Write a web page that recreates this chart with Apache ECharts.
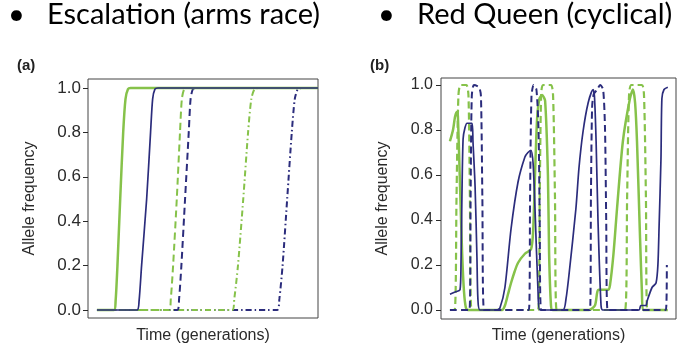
<!DOCTYPE html>
<html>
<head>
<meta charset="utf-8">
<script src="https://cdn.jsdelivr.net/npm/echarts@6/dist/echarts.min.js"></script>
<style>
html,body{margin:0;padding:0;background:#fff;}
#c{width:689px;height:357px;}
</style>
</head>
<body>
<div id="c"></div>
<script>
// ---------- data ----------
var headingA = 'Escalation (arms race)';
var headingB = 'Red Queen (cyclical)';
var panelLabels = ['(a)', '(b)'];
var yTicks = [0, 0.2, 0.4, 0.6, 0.8, 1.0];
var xTitle = 'Time (generations)';
var yTitle = 'Allele frequency';

// Panel (a): escalation, time scaled 0..100
var aGreenSolid = [[3.9,0],[11.3,0],[12.0,0.04],[12.8,0.2],[14.0,0.5],[15.3,0.8],[16.3,0.95],[17.4,0.995],[18.5,1],[100,1]];
var aBlueSolid  = [[3.9,0],[21.3,0],[22.2,0.04],[23.3,0.2],[25.5,0.5],[27.2,0.8],[28.1,0.95],[29.1,0.995],[30.4,1],[100,1]];
var aGreenDash  = [[3.9,0],[35.2,0],[36.0,0.05],[37.0,0.2],[38.6,0.5],[40.0,0.8],[40.8,0.95],[41.8,0.995],[43.0,1],[100,1]];
var aBlueDash   = [[3.9,0],[38.8,0],[39.6,0.05],[40.6,0.2],[42.2,0.5],[43.8,0.8],[44.6,0.95],[45.6,0.995],[47.0,1],[100,1]];
var aGreenDot   = [[3.9,0],[62.7,0],[63.6,0.05],[65.2,0.2],[67.5,0.5],[69.6,0.8],[71.0,0.95],[72.4,0.995],[74.0,1],[100,1]];
var aBlueDot    = [[3.9,0],[82.2,0],[83.2,0.05],[84.6,0.2],[86.6,0.5],[88.6,0.8],[89.9,0.95],[91.2,0.995],[92.8,1],[100,1]];

// Panel (b): Red Queen cycles, time scaled 0..100
var bGreenSolid = [[3.8,0.75],[5.1,0.80],[6.0,0.86],[6.8,0.88],[7.2,0.86],[8.1,0.55],[9.0,0.25],[9.8,0.08],[10.6,0.01],[11.5,0],
  [26.0,0],[27.2,0.02],[28.5,0.07],[29.8,0.12],[31.3,0.17],[32.8,0.21],[35.7,0.25],[38.3,0.27],[39.2,0.35],[40.0,0.6],[40.9,0.85],[41.9,0.94],[43.0,0.955],[44.3,0.93],[45.5,0.6],[46.0,0.25],[46.8,0.02],[47.5,0],
  [63.0,0],[65.5,0.02],[66.5,0.08],[67.2,0.09],[71.1,0.09],[71.9,0.11],[73.4,0.25],[74.9,0.45],[77.4,0.75],[80.4,0.94],[81.7,0.98],[82.6,0.92],[83.4,0.75],[84.7,0.32],[85.5,0.08],[86.0,0],[96.5,0]];
var bGreenDash  = [[3.8,0],[5.8,0],[6.6,0.5],[7.4,0.95],[8.3,1.0],[10.8,1.0],[11.7,0.95],[12.3,0.5],[13.0,0],
  [41.3,0],[42.0,0.5],[42.6,0.95],[43.4,1.0],[46.8,1.0],[47.7,0.95],[48.5,0.5],[49.2,0],
  [78.3,0],[79.2,0.5],[80.0,0.95],[81.0,1.0],[85.5,1.0],[86.4,0.95],[87.2,0.5],[87.8,0],[96.5,0]];
var bBlueSolid  = [[3.8,0.07],[6.0,0.08],[8.1,0.09],[8.5,0.2],[8.9,0.5],[9.4,0.76],[10.2,0.81],[11.1,0.83],[13.2,0.83],[13.6,0.75],[14.5,0.55],[15.3,0.23],[15.7,0.05],[16.6,0],
  [23.8,0],[25.1,0.01],[27.2,0.1],[29.8,0.36],[32.8,0.57],[35.7,0.68],[37.0,0.70],[38.3,0.71],[39.2,0.65],[40.0,0.45],[41.3,0.08],[42.1,0],
  [51.9,0],[53.2,0.05],[54.5,0.16],[57.4,0.45],[58.7,0.63],[60.4,0.79],[62.6,0.92],[64.7,0.98],[65.3,0.95],[66.0,0.75],[66.8,0.4],[68.1,0.02],[68.9,0],
  [84.3,0],[85.0,0.02],[87.2,0.02],[87.7,0.04],[89.8,0.1],[91.5,0.12],[92.3,0.2],[92.8,0.37],[93.6,0.67],[94.0,0.94],[94.9,0.98],[96.5,0.99]];
var bBlueDash   = [[3.8,0],[12.1,0],[12.6,0.5],[13.1,0.95],[14.0,1.0],[16.2,0.99],[17.0,0.95],[17.6,0.5],[18.3,0],
  [37.4,0],[37.9,0.5],[38.5,0.95],[39.4,1.0],[40.6,0.98],[41.5,0.8],[42.0,0.4],[42.6,0],
  [63.4,0],[63.8,0.5],[64.3,0.9],[65.0,0.96],[66.5,0.98],[67.7,1.0],[69.0,0.98],[69.8,0.8],[70.3,0.4],[70.9,0],
  [95.7,0],[96.1,0.2]];

// ---------- styles ----------
var GREEN = '#86c24a';
var NAVY = '#2b2c7c';
var AX = '#2a2a2a';

function line(data, xi, color, width, type, z) {
  return {
    type: 'line', xAxisIndex: xi, yAxisIndex: xi, data: data,
    showSymbol: false, symbol: 'none', smooth: 0.25, z: z,
    lineStyle: { color: color, width: width, type: type },
    animation: false
  };
}
function xAx(gi, gap) {
  return { type: 'value', gridIndex: gi, min: 0, max: 100,
    axisLine: { show: false }, axisTick: { show: false }, axisLabel: { show: false }, splitLine: { show: false },
    name: xTitle, nameLocation: 'middle', nameGap: gap,
    nameTextStyle: { fontFamily: 'Liberation Sans', fontSize: 16, color: AX } };
}
function yAx(gi, mn, mx, fs, margin) {
  return { type: 'value', gridIndex: gi, min: mn, max: mx,
    axisLine: { show: false }, splitLine: { show: false },
    axisTick: { show: true, inside: false, length: 5, customValues: yTicks, lineStyle: { color: AX } },
    axisLabel: { show: true, customValues: yTicks, margin: margin, fontFamily: 'Liberation Sans', fontSize: fs, color: AX,
      formatter: function (v) { return (Math.round(v * 10) / 10).toFixed(1); } },
    name: yTitle, nameLocation: 'middle', nameGap: 50, nameRotate: 90,
    nameTextStyle: { fontFamily: 'Liberation Sans', fontSize: 16, color: AX } };
}

var chart = echarts.init(document.getElementById('c'), null, { renderer: 'canvas' });
chart.setOption({
  backgroundColor: '#ffffff',
  animation: false,
  graphic: [
    { type: 'text', left: 8, top: 0, style: { text: '\u2022', font: '29px Lato', fill: '#000' } },
    { type: 'text', left: 47, top: 0, style: { text: headingA, font: '29px Lato', fill: '#000' } },
    { type: 'text', left: 378, top: 0, style: { text: '\u2022', font: '29px Lato', fill: '#000' } },
    { type: 'text', left: 417, top: 0, style: { text: headingB, font: '29px Lato', fill: '#000' } },
    { type: 'text', left: 17, top: 58, style: { text: panelLabels[0], font: 'bold 15px Liberation Sans', fill: '#222' } },
    { type: 'text', left: 370, top: 58, style: { text: panelLabels[1], font: 'bold 15px Liberation Sans', fill: '#222' } }
  ],
  grid: [
    { left: 88, top: 79, width: 230, height: 239, show: true, borderColor: '#444', borderWidth: 1, backgroundColor: 'transparent', containLabel: false },
    { left: 441, top: 78, width: 235, height: 241, show: true, borderColor: '#444', borderWidth: 1, backgroundColor: 'transparent', containLabel: false }
  ],
  xAxis: [xAx(0, 10), xAx(1, 9)],
  yAxis: [yAx(0, -0.036, 1.0405, 17, 7), yAx(1, -0.04, 1.0311, 16, 8)],
  series: [
    line(aBlueDot, 0, NAVY, 2, [6, 3, 1.5, 3], 2),
    line(aGreenDot, 0, GREEN, 2, [6, 3, 1.5, 3], 3),
    line(aBlueDash, 0, NAVY, 2, [7, 4], 4),
    line(aGreenDash, 0, GREEN, 2, [7, 4], 5),
    line(aGreenSolid, 0, GREEN, 2.5, 'solid', 6),
    line(aBlueSolid, 0, NAVY, 1.7, 'solid', 7),
    line(bGreenSolid, 1, GREEN, 2.5, 'solid', 2),
    line(bGreenDash, 1, GREEN, 2.2, [7, 4], 3),
    line(bBlueSolid, 1, NAVY, 1.7, 'solid', 4),
    line(bBlueDash, 1, NAVY, 2, [7, 4], 5)
  ]
});
</script>
</body>
</html>
